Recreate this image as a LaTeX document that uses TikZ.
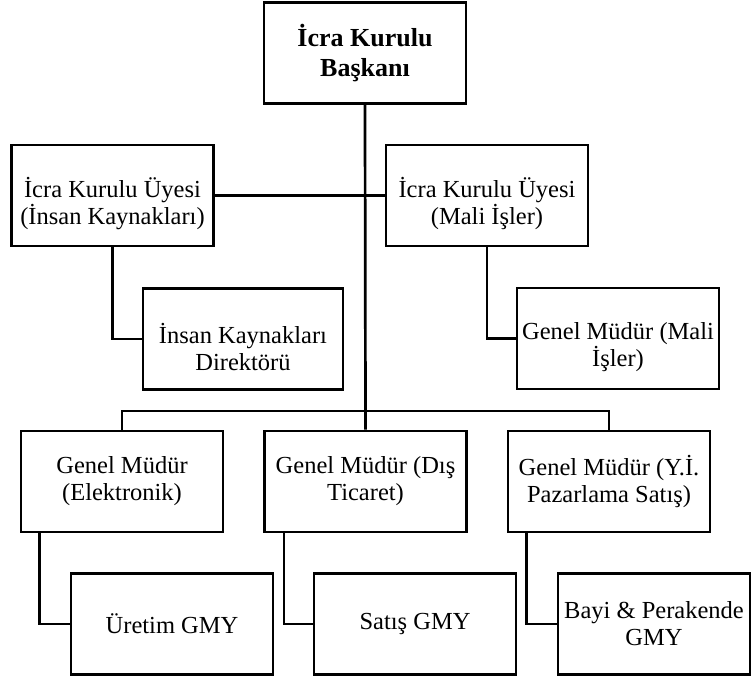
\documentclass[tikz,border=0pt]{standalone}
\usepackage{fontspec}
\setmainfont{Liberation Serif}
\newcommand\dropline[1]{\rule{0pt}{#1pt}}
\begin{document}
\begin{tikzpicture}[x=1pt,y=-1pt,
  box/.style={draw, line width=2.8pt, rectangle, minimum width=202pt, minimum height=101pt,
    align=center, inner sep=0pt, font=\fontsize{24.5}{27}\selectfont},
  conn/.style={line width=2.7pt}]
\useasboundingbox (0,0) rectangle (752,679);
% nodes
\node[box, font=\bfseries\fontsize{26}{30}\selectfont] (top) at (365,53) {İcra Kurulu\\Başkanı};
\node[box] (ikl) at (112.5,195.5) {\dropline{37}İcra Kurulu Üyesi\\(İnsan Kaynakları)};
\node[box] (mali) at (487,195.5) {\dropline{37}İcra Kurulu Üyesi\\(Mali İşler)};
\node[box, minimum width=200pt] (ikd) at (243,339) {\dropline{37}İnsan Kaynakları\\Direktörü};
\node[box] (gmm) at (618,338.5) {\dropline{34}Genel Müdür (Mali\\İşler)};
\node[box] (elk) at (122,481.5) {Genel Müdür\\(Elektronik)};
\node[box] (dis) at (365.5,481.5) {Genel Müdür (Dış\\Ticaret)};
\node[box] (yi) at (609,481.5) {Genel Müdür (Y.İ.\\Pazarlama Satış)};
\node[box] (ure) at (172,624) {Üretim GMY};
\node[box] (sat) at (415,624) {Satış GMY};
\node[box, minimum width=192pt] (bay) at (654,624) {Bayi \& Perakende\\GMY};
% connectors
\draw[conn] (top.south) -- (dis.north);
\draw[conn] (ikl.east) -- (mali.west);
\draw[conn] (elk.north) |- (365.5,411) -| (yi.north);
\draw[conn] (ikl.south) |- (ikd.west);
\draw[conn] (mali.south) |- (gmm.west);
\draw[conn] ([xshift=20pt]elk.south west) |- (ure.west);
\draw[conn] ([xshift=21pt]dis.south west) |- (sat.west);
\draw[conn] ([xshift=20pt]yi.south west) |- (bay.west);
\end{tikzpicture}
\end{document}
